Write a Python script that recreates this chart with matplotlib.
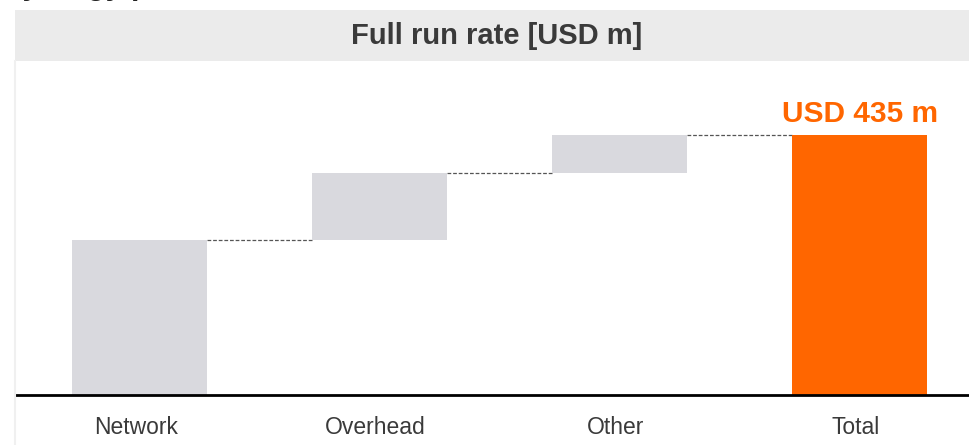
import numpy as np
import matplotlib.pyplot as plt
import matplotlib.transforms as mtransforms
from matplotlib.patches import Rectangle

plt.rcParams['font.family'] = ['Liberation Sans', 'DejaVu Sans']

# Waterfall of full run rate savings, USD m
categories = ['Network', 'Overhead', 'Other', 'Total']
steps = [259, 112, 64]
total = sum(steps)

grey = '#D9D9DE'
orange = '#FF6600'
text_grey = '#3A3A3A'

fig = plt.figure(figsize=(9.7, 4.45), dpi=100)

# header band
fig.patches.append(Rectangle((15 / 970, 1 - 61 / 445), 955 / 970, 51 / 445,
                             transform=fig.transFigure, facecolor='#EBEBEB',
                             edgecolor='none', zorder=0))
fig.text(497 / 970, 1 - 36 / 445, 'Full run rate [USD m]', ha='center', va='center',
         fontsize=21, fontweight='bold', color=text_grey)
# page heading cut off at the top edge
fig.text(2 / 970, 1 + 14 / 445, 'Synergy potential', ha='left', va='center',
         fontsize=22, fontweight='bold', color='#222222')
# faint left frame line
fig.add_artist(plt.Line2D([15 / 970, 15 / 970], [0, 1 - 61 / 445],
                          transform=fig.transFigure, color='#F0F0F0', lw=1.5))

ax = fig.add_axes([15 / 970, 50 / 445, 955 / 970, 334 / 445])
ax.set_xlim(-0.519, 3.46)
ax.set_ylim(0, 559)
ax.patch.set_alpha(0)

x = np.arange(len(categories))
width = 0.5625
bottoms = np.concatenate([[0], np.cumsum(steps)[:-1]])
ax.bar(x[:3], steps, width=width, bottom=bottoms, color=grey, zorder=2)
ax.bar(x[3], total, width=width, color=orange, zorder=2)

# connectors between bars
levels = np.cumsum(steps)
for i, lv in enumerate(levels):
    ax.plot([x[i] + width / 2, x[i + 1] - width / 2], [lv, lv],
            color='#555555', lw=0.9, ls=(0, (3, 1.5)), zorder=1)

ax.text(x[3], total + 12, f'USD {total} m', ha='center', va='bottom',
        fontsize=21.5, fontweight='bold', color=orange)

for s in ['top', 'right', 'left']:
    ax.spines[s].set_visible(False)
ax.spines['bottom'].set_linewidth(2)
ax.spines['bottom'].set_color('black')
ax.set_yticks([])
ax.set_xticks(x)
ax.set_xticklabels(categories, fontsize=16.5, color=text_grey)
ax.tick_params(axis='x', length=0, pad=15)
shift = mtransforms.ScaledTranslation(-4 / 100, 0, fig.dpi_scale_trans)
for lbl in ax.get_xticklabels():
    lbl.set_transform(lbl.get_transform() + shift)

fig.savefig('out.png', dpi=100, facecolor='white')
